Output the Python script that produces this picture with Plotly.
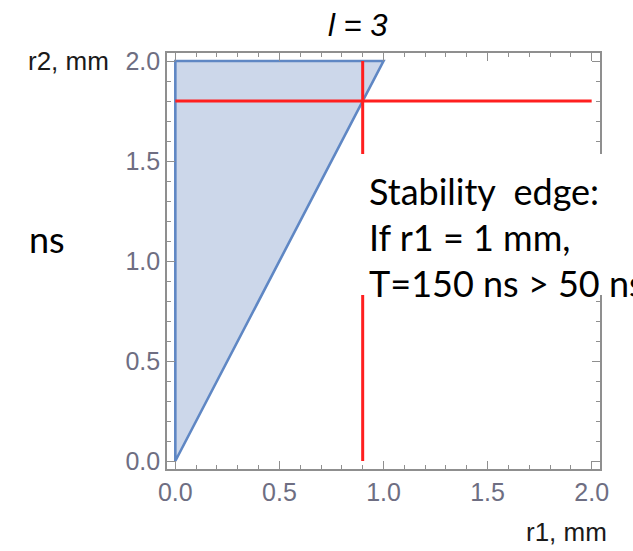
import plotly.graph_objects as go

# Stable region in the (r1, r2) plane: bounded by r1 = 0, r2 = 2.0 and r2 = 2*r1
region_r1 = [0.0, 0.0, 1.0, 0.0]
region_r2 = [0.0, 2.0, 2.0, 0.0]

# Operating point marked with a crosshair
point_r1 = 0.9
point_r2 = 1.8
axis_min = 0.0
axis_max = 2.0

tick_vals = [0.0, 0.5, 1.0, 1.5, 2.0]
tick_text = ["0.0", "0.5", "1.0", "1.5", "2.0"]

title_text = "l = 3"
x_label = "r1, mm"
y_label = "r2, mm"
note_lines = ["Stability\u00a0 edge:", "If r1 = 1 mm,", "T=150 ns > 50 ns"]
side_text = "ns"

W, H = 633, 551
ML, MR, MT, MB = 167, 33, 53, 82
PW, PH = W - ML - MR, H - MT - MB


def px(x):
    return (x - ML) / PW


def py(y):
    return (H - MB - y) / PH


fig = go.Figure()

fig.add_trace(go.Scatter(
    x=region_r1, y=region_r2, mode="lines", fill="toself",
    fillcolor="rgba(204,215,234,1)",
    line=dict(color="#5f87c4", width=2.6),
    hoverinfo="skip", showlegend=False,
))

fig.add_trace(go.Scatter(
    x=[axis_min, axis_max], y=[point_r2, point_r2], mode="lines",
    line=dict(color="#ff1f1f", width=3), showlegend=False,
))
fig.add_trace(go.Scatter(
    x=[point_r1, point_r1], y=[axis_min, axis_max], mode="lines",
    line=dict(color="#ff1f1f", width=3), showlegend=False,
))

frame = "#8f8f8f"
tick_font = dict(family="Liberation Sans, Arial, sans-serif", size=25, color="#6e6e82")
axis_common = dict(
    range=[-0.04, 2.04], tickvals=tick_vals, ticktext=tick_text,
    ticks="inside", ticklen=8, tickwidth=1.3, tickcolor=frame,
    minor=dict(dtick=0.1, ticks="inside", ticklen=4, tickwidth=1, tickcolor=frame),
    showline=True, linecolor=frame, linewidth=1.6, mirror="ticks",
    showgrid=False, zeroline=False, tickfont=tick_font,
)

fig.update_layout(
    width=W, height=H,
    margin=dict(l=ML, r=MR, t=MT, b=MB),
    paper_bgcolor="white", plot_bgcolor="white",
    xaxis=axis_common,
    yaxis=axis_common,
    showlegend=False,
)

# White panel that the note sits on
fig.add_shape(type="rect", xref="paper", yref="paper",
              x0=px(350), x1=px(640), y0=py(295), y1=py(154),
              fillcolor="white", line=dict(width=0), layer="above")

note_font = dict(family="Lato, sans-serif", size=36, color="black")
for i, line in enumerate(note_lines):
    fig.add_annotation(text=line, xref="paper", yref="paper",
                       x=px(367), y=py(191 + 46 * i), xanchor="left", yanchor="middle",
                       showarrow=False, font=note_font)

fig.add_annotation(text=side_text, xref="paper", yref="paper",
                   x=px(27), y=py(239), xanchor="left", yanchor="middle",
                   showarrow=False, font=note_font)

fig.add_annotation(text="<i>" + title_text + "</i>", xref="paper", yref="paper",
                   x=px(357), y=py(26), xanchor="center", yanchor="middle",
                   showarrow=False,
                   font=dict(family="Liberation Sans, Arial, sans-serif", size=31, color="black"))

label_font = dict(family="Liberation Sans, Arial, sans-serif", size=26, color="#1a1a1a")
fig.add_annotation(text=y_label, xref="paper", yref="paper",
                   x=px(111), y=py(61), xanchor="right", yanchor="middle",
                   showarrow=False, font=label_font)
fig.add_annotation(text=x_label, xref="paper", yref="paper",
                   x=px(609), y=py(532), xanchor="right", yanchor="middle",
                   showarrow=False, font=label_font)

fig.write_html("out.html")
